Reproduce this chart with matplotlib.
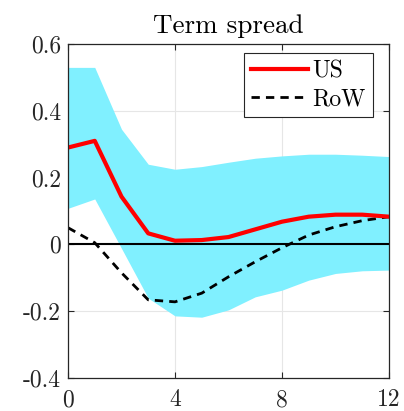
import matplotlib
matplotlib.use("Agg")
import matplotlib.pyplot as plt
import numpy as np

plt.rcParams['font.family'] = ['cmr10', 'DejaVu Serif']
plt.rcParams['axes.unicode_minus'] = False

horizon = np.arange(0, 13)
us = [0.290, 0.310, 0.143, 0.033, 0.011, 0.013, 0.022, 0.045, 0.068, 0.083, 0.089, 0.089, 0.083]
row = [0.050, 0.005, -0.085, -0.166, -0.172, -0.146, -0.097, -0.052, -0.010, 0.028, 0.053, 0.071, 0.083]
band_hi = [0.530, 0.530, 0.345, 0.240, 0.225, 0.233, 0.246, 0.258, 0.265, 0.270, 0.270, 0.267, 0.263]
band_lo = [0.108, 0.136, -0.012, -0.161, -0.214, -0.218, -0.196, -0.157, -0.137, -0.107, -0.087, -0.079, -0.077]

xticks = [0, 4, 8, 12]
yticks = [-0.4, -0.2, 0, 0.2, 0.4, 0.6]
ytick_labels = ['-0.4', '-0.2', '0', '0.2', '0.4', '0.6']

fig = plt.figure(figsize=(4.04, 4.11), dpi=100)
ax = fig.add_axes([68 / 404, 1 - 378 / 411, (389 - 68) / 404, (378 - 44) / 411])

ax.fill_between(horizon, band_lo, band_hi, color='#80F0FF', linewidth=0, zorder=1)
ax.axhline(0, color='black', linewidth=1.5, zorder=2)
ax.plot(horizon, us, color='#FF0000', linewidth=3, label='US', zorder=4)
ax.plot(horizon, row, color='black', linewidth=2, linestyle=(0, (3, 2.2)), label='RoW', zorder=3)

ax.set_xlim(0, 12)
ax.set_ylim(-0.4, 0.6)
ax.set_xticks(xticks)
ax.set_xticklabels([str(t) for t in xticks])
ax.set_yticks(yticks)
ax.set_yticklabels(ytick_labels)
ax.tick_params(direction='in', top=True, right=True, labelsize=17, length=4, width=0.8,
               color='#262626', labelcolor='#262626')
ax.tick_params(axis='x', pad=8)
ax.tick_params(axis='y', pad=5)
ax.grid(True, color='#E6E6E6', linewidth=0.8, zorder=0)
ax.set_axisbelow(True)
for s in ax.spines.values():
    s.set_color('#262626')
    s.set_linewidth(0.9)
    s.set_zorder(5)

ax.set_title('Term spread', fontsize=19.5, pad=8)

leg = ax.legend(loc='upper right', bbox_to_anchor=(0.950, 0.973), fontsize=17,
                frameon=True, fancybox=False, edgecolor='#262626', framealpha=1,
                handlelength=2.4, borderpad=0.3, labelspacing=0.25,
                handletextpad=0.2, borderaxespad=0)
leg.get_frame().set_linewidth(0.8)

fig.savefig('out.png', dpi=100)
